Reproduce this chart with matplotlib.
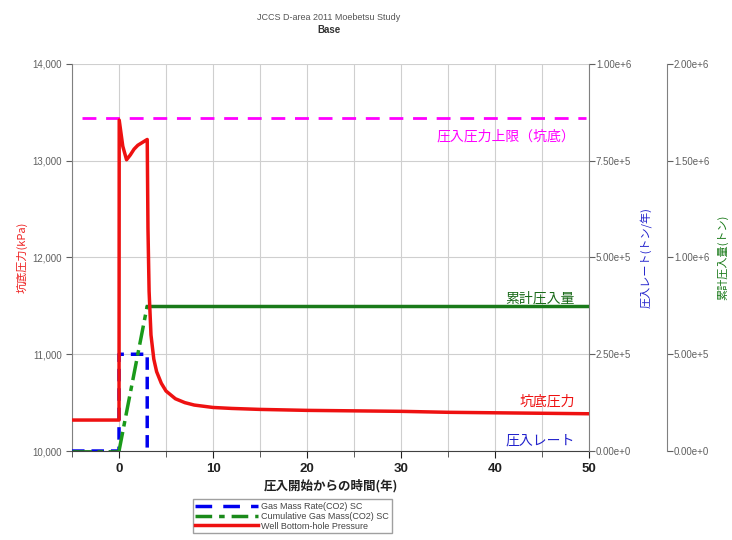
import matplotlib
matplotlib.use("Agg")
import matplotlib.pyplot as plt
import numpy as np
from matplotlib.lines import Line2D

plt.rcParams['font.family'] = ['Liberation Sans', 'Noto Sans CJK JP', 'DejaVu Sans']
plt.rcParams['lines.scale_dashes'] = False
JP = ['Noto Sans CJK JP', 'DejaVu Sans']

# ---- data ----
t_pres = [-5, 0, 0.02, 0.4, 0.8, 1.2, 1.6, 2.0, 2.5, 3.0, 3.08, 3.2, 3.4, 3.7, 4.0, 4.5, 5.0, 6.0, 7.0, 8.0, 10.0, 12.0, 15.0, 20.0, 25.0, 30.0, 35.0, 40.0, 45.0, 50.0]
pressure = [10320, 10320, 13420, 13150, 13010, 13060, 13120, 13160, 13190, 13220, 12300, 11650, 11200, 10950, 10820, 10700, 10620, 10540, 10500, 10475, 10450, 10440, 10430, 10420, 10415, 10410, 10400, 10395, 10390, 10385]

t_rate = [-5, 0, 0.0001, 3.0, 3.0001, 50]
rate = [0, 0, 2.5e5, 2.5e5, 0, 0]

t_cum = [-5, 0, 3.0, 50]
cumulative = [0, 0, 7.5e5, 7.5e5]

pressure_limit = 13440

x_ticks = [0, 10, 20, 30, 40, 50]
p_ticks = [10000, 11000, 12000, 13000, 14000]
rate_ticks = [0, 2.5e5, 5e5, 7.5e5, 1e6]
cum_ticks = [0, 5e5, 1e6, 1.5e6, 2e6]

title1 = "JCCS D-area 2011 Moebetsu Study"
title2 = "Base"
legend_labels = ["Gas Mass Rate(CO2) SC", "Cumulative Gas Mass(CO2) SC", "Well Bottom-hole Pressure"]

# ---- figure ----
fig = plt.figure(figsize=(7.32, 5.40), dpi=100)
ax = fig.add_axes([0.0984, 0.1648, 0.8046 - 0.0984, 0.8815 - 0.1648])
ax2 = ax.twinx()
ax3 = ax.twinx()
ax4 = ax.twinx()   # top layer for the pressure curve, same scale as ax

ax.set_xlim(-5, 50)
ax.set_ylim(10000, 14000)
ax4.set_ylim(10000, 14000)
ax2.set_ylim(0, 1e6)
ax3.set_ylim(0, 2e6)

ax.set_zorder(0)
ax2.set_zorder(1)
ax3.set_zorder(2)
ax4.set_zorder(3)
for a in (ax2, ax3, ax4):
    a.patch.set_visible(False)
ax4.yaxis.set_visible(False)
for s in ax4.spines.values():
    s.set_visible(False)

ax3.spines['right'].set_position(('axes', (667 - 72) / (589 - 72)))

gridc = '#cfcfcf'
ax.set_xticks(x_ticks)
ax.set_xticks([v + 5 for v in x_ticks[:-1]] + [-5], minor=True)
ax.set_yticks(p_ticks)
ax.set_yticklabels([f"{v:,}" for v in p_ticks])
ax.grid(True, which='both', axis='x', color=gridc, lw=0.8)
ax.grid(True, which='major', axis='y', color=gridc, lw=0.8)
ax.set_axisbelow(True)

for a in (ax, ax2, ax3):
    a.spines['top'].set_visible(False)
ax.spines['left'].set_color('#808080')
ax.spines['bottom'].set_color('#404040')
ax.spines['right'].set_visible(False)
ax3.spines['left'].set_visible(False)
ax2.spines['left'].set_visible(False)
ax2.spines['bottom'].set_visible(False)
ax3.spines['bottom'].set_visible(False)
ax2.spines['right'].set_color('#808080')
ax3.spines['right'].set_color('#808080')

ax.tick_params(axis='y', labelsize=7, colors='#606060', length=4, width=0.8)
ax.tick_params(axis='x', which='major', labelsize=9.5, colors='#202020', length=5)
ax.tick_params(axis='x', which='minor', length=4, color='#404040')
for lab in ax.get_xticklabels():
    lab.set_fontweight('bold')

ax2.set_yticks(rate_ticks)
ax2.set_yticklabels([f"{v:.2e}".replace("e+0", "e+") for v in rate_ticks])
ax3.set_yticks(cum_ticks)
ax3.set_yticklabels([f"{v:.2e}".replace("e+0", "e+") for v in cum_ticks])
for a in (ax2, ax3):
    a.tick_params(axis='y', labelsize=7, colors='#606060', length=4, width=0.8, pad=1)

# lines
ax4.axhline(pressure_limit, xmin=0.02, xmax=0.995, color='#ff00ff', lw=2, dashes=(10, 7))

tr = np.array(t_rate); rr = np.array(rate)
m = tr <= 3.0001
ax2.plot(tr[m], rr[m], color='#0000ee', lw=2.5, dashes=(9, 5))
ax2.plot(tr[~m], rr[~m], color='#0000aa', lw=1.5)

tc = np.array(t_cum); cc = np.array(cumulative)
ax3.plot(tc[:2], cc[:2], color='#1a7a1a', lw=2, dashes=(14, 4, 4, 4))
ax3.plot(tc[1:3], cc[1:3], color='#1a9a1a', lw=2.5, dashes=(14, 4, 4, 4))
ax3.plot(tc[2:], cc[2:], color='#1a7a1a', lw=2.5)

ax4.plot(t_pres, pressure, color='#ee1111', lw=2.5)

# annotations
ax4.text(48.5, 13250, "圧入圧力上限（坑底）", color='#ff00ff', fontsize=10, ha='right', va='center', family=JP)
ax4.text(48.5, 11580, "累計圧入量", color='#1a6a1a', fontsize=10, ha='right', va='center', family=JP)
ax4.text(48.5, 10510, "坑底圧力", color='#ee1111', fontsize=10, ha='right', va='center', family=JP)
ax4.text(48.5, 10110, "圧入レート", color='#2222cc', fontsize=10, ha='right', va='center', family=JP)

ax.set_ylabel("坑底圧力(kPa)", color='#ee2222', fontsize=8, family=JP, labelpad=3)
ax2.set_ylabel("圧入レート(トン/年)", color='#2222cc', fontsize=8, family=JP, labelpad=6)
ax3.set_ylabel("累計圧入量(トン)", color='#1a7a1a', fontsize=8, family=JP, labelpad=6)
ax.set_xlabel("圧入開始からの時間(年)", fontsize=9, family=JP, color='#202020', labelpad=3, fontweight='bold')

fig.text(0.4495, 0.968, title1, ha='center', va='center', fontsize=6.5, color='#555555')
fig.text(0.4495, 0.944, title2, ha='center', va='center', fontsize=7, color='#333333', fontweight='bold')

handles = [Line2D([], [], color='#0000ee', lw=2.5, dashes=(12, 8)),
           Line2D([], [], color='#1a8a1a', lw=2.5, dashes=(12, 5, 4, 5)),
           Line2D([], [], color='#ee1111', lw=2.5)]
leg = fig.legend(handles, legend_labels, loc='center', bbox_to_anchor=(0.399, 0.044),
                 fontsize=6.5, frameon=True, fancybox=False, edgecolor='#888888',
                 handlelength=7, handletextpad=0.3, labelspacing=0.1, borderpad=0.3)
for txt in leg.get_texts():
    txt.set_color('#444444')

fig.savefig("out.png", dpi=100)
